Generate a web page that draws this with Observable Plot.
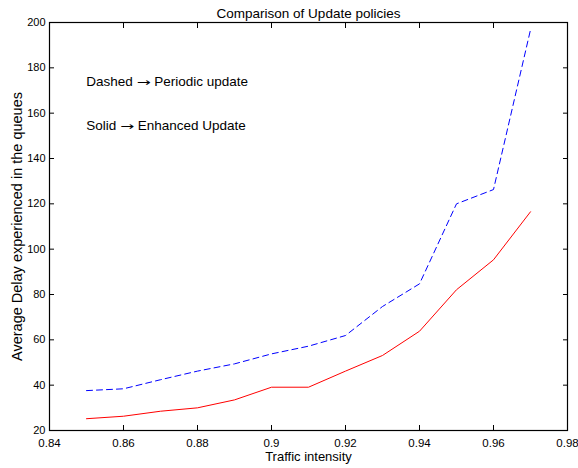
<!DOCTYPE html>
<html><head><meta charset="utf-8">
<script src="https://cdn.jsdelivr.net/npm/d3@7"></script>
<script src="https://cdn.jsdelivr.net/npm/@observablehq/plot@0.6"></script>
<style>body{margin:0;background:#fff;} svg{font-family:"Liberation Sans",Arial,sans-serif;}</style>
</head><body><div id="chart"></div>
<script>
const intensity = [0.85,0.86,0.87,0.88,0.89,0.90,0.91,0.92,0.93,0.94,0.95,0.96,0.97];
const periodic = [37.6,38.4,42.4,46.2,49.4,53.8,57.2,61.9,74.7,84.7,120.0,126.3,196.8];
const enhanced = [25.2,26.3,28.5,30.0,33.5,39.1,39.1,46.2,53.1,63.8,82.1,95.3,116.5];
const xTicks = [0.84,0.86,0.88,0.90,0.92,0.94,0.96,0.98];
const yTicks = [20,40,60,80,100,120,140,160,180,200];
const title = "Comparison of Update policies";
const xLabel = "Traffic intensity";
const yLabel = "Average Delay experienced in the queues";
const notes = [{x:0.8499, y:174, t:"Dashed \u2192 Periodic update"},{x:0.8499, y:154.6, t:"Solid \u2192 Enhanced Update"}];

const pData = intensity.map((x,i)=>({x, y: periodic[i]}));
const eData = intensity.map((x,i)=>({x, y: enhanced[i]}));
const fmt = d => String(+d.toFixed(2));

const chart = Plot.plot({
  width: 578, height: 468,
  marginLeft: 49, marginRight: 11, marginTop: 22, marginBottom: 38,
  style: {fontFamily: '"Liberation Sans", Arial, sans-serif', fontSize: "11px", background: "#fff"},
  x: {domain: [0.84, 0.98]},
  y: {domain: [20, 200]},
  marks: [
    Plot.axisX(xTicks, {anchor: "bottom", tickSize: -5, tickPadding: 13, tickFormat: fmt, label: null, fontSize: 11.5}),
    Plot.axisX(xTicks, {anchor: "top", tickSize: -5, tickFormat: () => "", label: null}),
    Plot.axisY(yTicks, {anchor: "left", tickSize: -5, tickPadding: 9, label: null, fontSize: 11}),
    Plot.axisY(yTicks, {anchor: "right", tickSize: -5, tickFormat: () => "", label: null}),
    Plot.line(pData, {x: "x", y: "y", stroke: "#0000ff", strokeWidth: 1, strokeDasharray: "6,4"}),
    Plot.line(eData, {x: "x", y: "y", stroke: "#ff0000", strokeWidth: 1}),
    Plot.frame({stroke: "#000", strokeWidth: 1.2}),
    Plot.text(notes, {x: "x", y: "y", text: "t", textAnchor: "start", fontSize: 13.5, fill: "#000"}),
    Plot.text([title], {frameAnchor: "top", dy: -14, fontSize: 13.5, fill: "#000"}),
    Plot.text([xLabel], {frameAnchor: "bottom", dy: 30, fontSize: 13, fill: "#000"}),
    Plot.text([yLabel], {frameAnchor: "left", textAnchor: "middle", dx: -32, rotate: -90, fontSize: 14.5, fill: "#000"})
  ]
});
// render the arrow with a wider, thinner glyph, like the original's symbol font
d3.select(chart).selectAll("text").each(function() {
  const s = this.textContent;
  if (this.children.length === 0 && s.includes("\u2192")) {
    const parts = s.split("\u2192");
    const el = d3.select(this).attr("xml:space", "preserve").style("white-space", "pre");
    el.text(null);
    el.append("tspan").text(parts[0]);
    el.append("tspan").attr("font-family", '"DejaVu Sans"').attr("font-size", 11)
      .attr("textLength", 14).attr("lengthAdjust", "spacingAndGlyphs").text("\u2192");
    el.append("tspan").text(parts[1]);
  }
});
document.getElementById("chart").appendChild(chart);
</script>
</body></html>
